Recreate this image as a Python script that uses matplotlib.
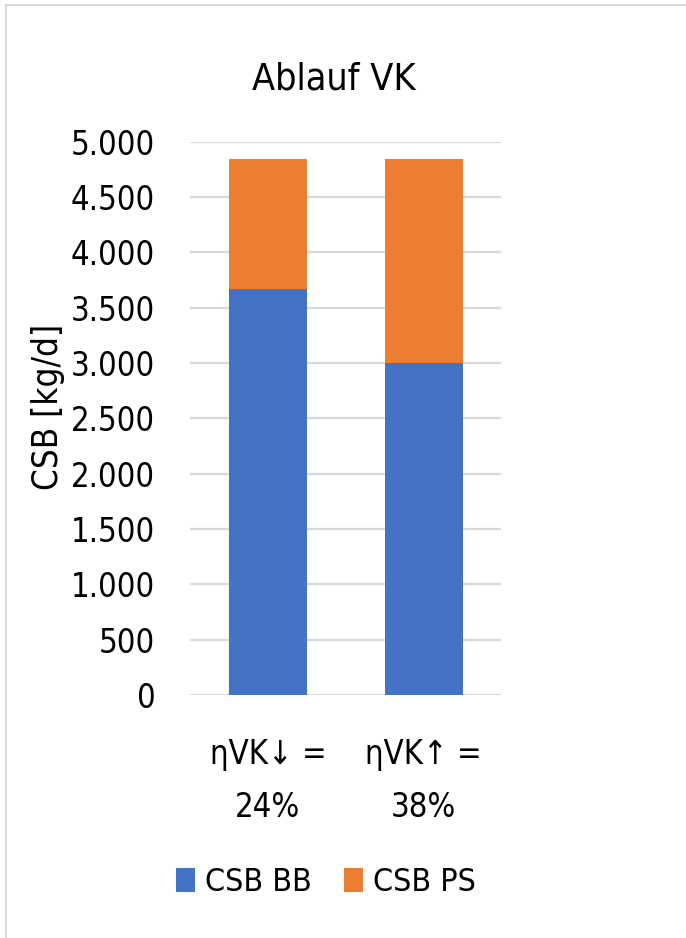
import numpy as np
import matplotlib
matplotlib.use("Agg")
import matplotlib.pyplot as plt
from matplotlib.patches import Rectangle

plt.rcParams['font.family'] = ['DejaVu Sans']
plt.rcParams['font.stretch'] = 'condensed'

# Daten: CSB-Fracht im Ablauf der Vorklaerung
kategorien = ["ηVK↓ =\n24%", "ηVK↑ =\n38%"]
csb_bb = [3670, 3000]
csb_ps = [1175, 1845]
serien = ["CSB BB", "CSB PS"]
farben = ["#4472c4", "#ed7d31"]

fig = plt.figure(figsize=(6.86, 9.38), dpi=100)
ax = fig.add_axes([0.277, 0.259, 0.454, 0.590])

x = np.arange(len(kategorien))
b1 = ax.bar(x, csb_bb, width=0.5, color=farben[0], label=serien[0], zorder=3)
b2 = ax.bar(x, csb_ps, width=0.5, bottom=csb_bb, color=farben[1], label=serien[1], zorder=3)

ax.set_xlim(-0.5, 1.5)
ax.set_ylim(0, 5000)
yt = np.arange(0, 5001, 500)
ax.set_yticks(yt)
ax.set_yticklabels([f"{v:,.0f}".replace(",", ".") for v in yt])
ax.set_xticks(x)
ax.set_xticklabels(kategorien, linespacing=1.75)
ax.tick_params(axis='both', length=0, labelsize=23.5)
ax.tick_params(axis='y', pad=25)
ax.tick_params(axis='x', pad=31)
ax.grid(axis='y', color='#d9d9d9', linewidth=1.6, zorder=0)
for s in ax.spines.values():
    s.set_visible(False)

ax.set_ylabel("CSB [kg/d]", fontsize=25)
ax.yaxis.set_label_coords(-0.40, 0.52)
fig.text(0.486, 0.915, "Ablauf VK", ha='center', va='center', fontsize=27)

fig.legend(handles=[b1, b2], labels=serien, loc='center', bbox_to_anchor=(0.475, 0.059),
           ncol=2, frameon=False, fontsize=23, handlelength=0.6, handleheight=0.75,
           handletextpad=0.3, columnspacing=1.0)

# Rahmen des Diagrammbereichs
fig.patches.append(Rectangle((6 / 686, -0.1), 1.2, 1.1 - 5 / 938,
                             transform=fig.transFigure, fill=False,
                             edgecolor='#d9d9d9', linewidth=1.5))

fig.savefig("out.png", dpi=100)
